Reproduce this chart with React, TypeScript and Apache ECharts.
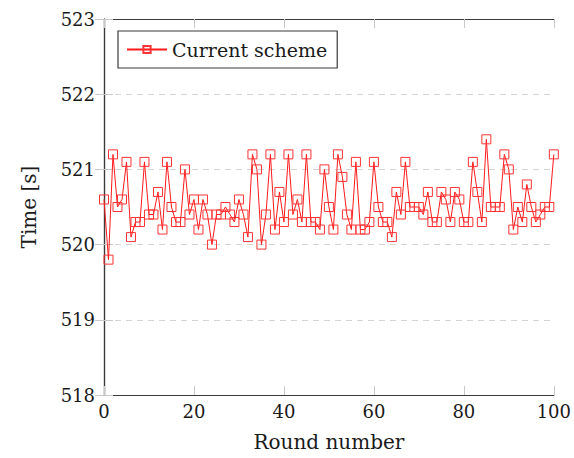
import React, { useEffect, useRef } from "react";
import * as echarts from "echarts";

const rounds: number[] = Array.from({ length: 101 }, (_, i) => i);
const times: number[] = [
  520.6, 519.8, 521.2, 520.5, 520.6, 521.1, 520.1, 520.3, 520.3, 521.1,
  520.4, 520.4, 520.7, 520.2, 521.1, 520.5, 520.3, 520.3, 521.0, 520.4,
  520.6, 520.2, 520.6, 520.4, 520.0, 520.4, 520.4, 520.5, 520.4, 520.3,
  520.6, 520.4, 520.1, 521.2, 521.0, 520.0, 520.4, 521.2, 520.2, 520.7,
  520.3, 521.2, 520.4, 520.6, 520.3, 521.2, 520.3, 520.3, 520.2, 521.0,
  520.5, 520.2, 521.2, 520.9, 520.4, 520.2, 521.1, 520.2, 520.2, 520.3,
  521.1, 520.5, 520.3, 520.3, 520.1, 520.7, 520.4, 521.1, 520.5, 520.5,
  520.5, 520.4, 520.7, 520.3, 520.3, 520.7, 520.6, 520.3, 520.7, 520.6,
  520.3, 520.3, 521.1, 520.7, 520.3, 521.4, 520.5, 520.5, 520.5, 521.2,
  521.0, 520.2, 520.5, 520.3, 520.8, 520.5, 520.3, 520.4, 520.5, 520.5,
  521.2,
];
const seriesName = "Current scheme";
const xTitle = "Round number";
const yTitle = "Time [s]";

const FONT = "DejaVu Serif";

export default function App() {
  const ref = useRef<HTMLDivElement>(null);
  useEffect(() => {
    if (!ref.current) return;
    const chart = echarts.init(ref.current, undefined, { renderer: "svg" });
    const tickStyle = { show: true, inside: true, length: 9, lineStyle: { color: "#c8c8c8", width: 1 } };
    const axisLine = { show: true, lineStyle: { color: "#3a3a3a", width: 1.2 } };
    const label = (size: number) => ({ fontFamily: FONT, fontSize: size, color: "#1a1a1a" });
    chart.setOption({
      animation: false,
      backgroundColor: "#fff",
      textStyle: { fontFamily: FONT },
      grid: { left: 104, right: 17, top: 19, bottom: 63 },
      legend: {
        show: true,
        left: 118,
        top: 31,
        orient: "horizontal",
        borderColor: "#3a3a3a",
        borderWidth: 1.2,
        padding: [9, 10, 9, 8],
        itemWidth: 40,
        itemHeight: 9,
        itemGap: 6,
        textStyle: label(19),
        data: [seriesName],
      },
      xAxis: [
        {
          type: "value",
          position: "bottom",
          min: 0,
          max: 100,
          interval: 20,
          axisLine,
          axisTick: tickStyle,
          splitLine: { show: false },
          axisLabel: { ...label(18), margin: 7 },
          name: xTitle,
          nameLocation: "middle",
          nameGap: 37,
          nameTextStyle: label(20),
        },
        {
          type: "value",
          position: "top",
          min: 0,
          max: 100,
          interval: 20,
          axisLine,
          axisTick: tickStyle,
          splitLine: { show: false },
          axisLabel: { show: false },
        },
      ],
      yAxis: [
        {
          type: "value",
          position: "left",
          min: 518,
          max: 523,
          interval: 1,
          axisLine,
          axisTick: tickStyle,
          splitLine: { show: true, lineStyle: { color: "#d4d4d4", type: [6, 5], width: 1 } },
          axisLabel: { ...label(18), margin: 9 },
          name: yTitle,
          nameLocation: "middle",
          nameRotate: 90,
          nameGap: 65,
          nameTextStyle: label(20),
        },
        {
          type: "value",
          position: "right",
          min: 518,
          max: 523,
          interval: 1,
          axisLine,
          axisTick: tickStyle,
          splitLine: { show: false },
          axisLabel: { show: false },
        },
      ],
      series: [
        {
          name: seriesName,
          type: "line",
          xAxisIndex: 0,
          yAxisIndex: 0,
          data: rounds.map((r, i) => [r, times[i]]),
          symbol: "rect",
          symbolSize: 9,
          showAllSymbol: true,
          lineStyle: { color: "#ff1a1a", width: 1 },
          itemStyle: { color: "rgba(255,255,255,0)", borderColor: "#ff3333", borderWidth: 1 },
        },
      ],
    });
    return () => chart.dispose();
  }, []);
  return (
    <div
      ref={ref}
      style={{ position: "absolute", left: 0, top: 0, width: 574, height: 458 }}
    />
  );
}
